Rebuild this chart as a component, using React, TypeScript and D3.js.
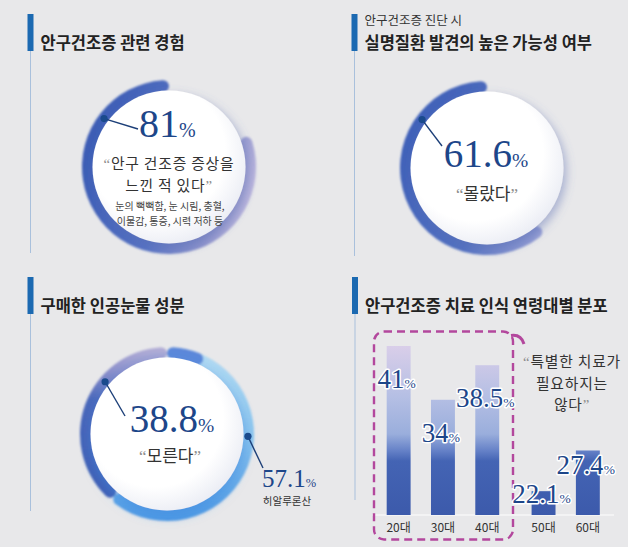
import React from 'react';
import * as d3 from 'd3';

// ---------------- DATA ----------------
const titles = ['안구건조증 관련 경험', '실명질환 발견의 높은 가능성 여부', '구매한 인공눈물 성분', '안구건조증 치료 인식 연령대별 분포'];
const subtitle2 = '안구건조증 진단 시';

const experienceValue = 81;
const experienceQuote = ['안구 건조증 증상을', '느낀 적 있다'];
const experienceSymptoms = ['눈의 뻑뻑함, 눈 시림, 충혈,', '이물감, 통증, 시력 저하 등'];

const unawareValue = 61.6;
const unawareQuote = '몰랐다';

const ingredientLabels = ['기타', '히알루론산', '모른다'];
const ingredientValues = [4.1, 57.1, 38.8];

const ageGroups = ['20대', '30대', '40대', '50대', '60대'];
const noTreatmentValues = [41, 34, 38.5, 22.1, 27.4];
const treatmentQuote = ['특별한 치료가', '필요하지는', '않다'];

// ---------------- STYLE ----------------
const W = 628, H = 547;
const BG = '#e8e8ea';
const NAVY = '#1d4689';
const KR = "'Noto Sans CJK KR', 'Noto Sans', sans-serif";
const SERIF = "'Liberation Serif', 'DejaVu Serif', serif";
const R_OUT = 87, R_IN = 75, R_WHITE = 76.5;

const pct = d3.scaleLinear().domain([0, 100]).range([0, 2 * Math.PI]);
const ringArc = d3.arc<any>().innerRadius(R_IN).outerRadius(R_OUT).cornerRadius((R_OUT - R_IN) / 2);
const polar = (cx: number, cy: number, r: number, a: number) => [cx + r * Math.sin(a), cy - r * Math.cos(a)];

function Header({ x, y, title, sub, lineEnd }: any) {
  return (
    <g>
      <line x1={x + 3} x2={x + 3} y1={y} y2={lineEnd} stroke="#a9c0dc" strokeWidth={1} />
      <rect x={x} y={y} width={6} height={37} fill="#1b69b1" />
      {sub && <text x={x + 13} y={y + 11} fontFamily={KR} fontSize={12.5} fill="#333">{sub}</text>}
      <text x={x + 13} y={y + 35} fontFamily={KR} fontWeight={700} fontSize={16.5} fill="#222">{title}</text>
    </g>
  );
}

function Quote({ x, y, lines, size, lineH, spacing = 0 }: any) {
  const q = (c: string) => <tspan fontFamily={SERIF} fill="#8d8d8d">{c}</tspan>;
  return (
    <g>
      {lines.map((l: string, i: number) => (
        <text key={i} x={x} y={y + i * lineH} fontFamily={KR} fontSize={size} fill="#333" textAnchor="middle" letterSpacing={spacing}>
          {i === 0 && q('\u201C')}
          {l}
          {i === lines.length - 1 && q('\u201D')}
        </text>
      ))}
    </g>
  );
}

function Leader({ cx, cy, angle, tx, ty }: any) {
  const [px, py] = polar(cx, cy, (R_IN + R_OUT) / 2, angle);
  return (
    <g>
      <line x1={px} y1={py} x2={tx} y2={ty} stroke="#1c3f78" strokeWidth={1.4} />
      <circle cx={px} cy={py} r={3.6} fill="#1a4a8c" />
    </g>
  );
}

function BigNum({ x, y, value, size, anchor = 'start', outline = false }: any) {
  return (
    <text x={x} y={y} fontFamily={SERIF} fontSize={size} fill={NAVY} textAnchor={anchor}
      stroke={outline ? '#fff' : 'none'} strokeWidth={outline ? 3 : 0} paintOrder="stroke" strokeLinejoin="round">
      {value}<tspan fontSize={size * 0.5}>%</tspan>
    </text>
  );
}

export default function App() {
  const c1 = { x: 169, y: 167 };
  const c2 = { x: 487, y: 168 };
  const c3 = { x: 167, y: 434 };

  const pie = d3.pie<number>().sort(null).value(d => d);
  const slices = pie(ingredientValues);

  // Bars
  const baseY = 515;
  const gap = 12;
  const x = d3.scaleBand().domain(ageGroups).range([376.5, 598]).paddingInner(0.46).paddingOuter(0.23);
  const bx = (g: string, i: number) => (x(g) as number) + (i >= 3 ? gap : 0);
  const y = d3.scaleLinear().domain([19, 41]).range([baseY, 346]);

  return (
    <svg width={W} height={H} style={{ position: 'absolute', left: 0, top: 0 }}>
      <defs>
        <filter id="shadow" x="-30%" y="-30%" width="160%" height="160%">
          <feDropShadow dx={3} dy={4} stdDeviation={5} floodColor="#5a6fb3" floodOpacity={0.45} />
        </filter>
        <filter id="shadow3" x="-30%" y="-30%" width="160%" height="160%">
          <feDropShadow dx={1} dy={5} stdDeviation={6} floodColor="#3f8be0" floodOpacity={0.55} />
        </filter>
        <filter id="soft" x="-10%" y="-10%" width="120%" height="120%"><feGaussianBlur stdDeviation={0.8} /></filter>
        <radialGradient id="white" cx="42%" cy="40%" r="62%">
          <stop offset="0.72" stopColor="#ffffff" />
          <stop offset="1" stopColor="#eceef5" />
        </radialGradient>
        <linearGradient id="g1" gradientUnits="userSpaceOnUse" x1={-R_OUT} y1={-R_OUT * 0.3} x2={R_OUT} y2={R_OUT * 0.3}>
          <stop offset="0" stopColor="#3a5bb4" />
          <stop offset="0.5" stopColor="#5571c2" />
          <stop offset="0.8" stopColor="#8d93cc" />
          <stop offset="1" stopColor="#c1badf" />
        </linearGradient>
        <linearGradient id="g2" gradientUnits="userSpaceOnUse" x1={-R_OUT} y1={-R_OUT * 0.4} x2={R_OUT} y2={R_OUT * 0.6}>
          <stop offset="0" stopColor="#3f60b8" />
          <stop offset="0.55" stopColor="#5270c0" />
          <stop offset="0.85" stopColor="#8e99d2" />
          <stop offset="1" stopColor="#c4c3e3" />
        </linearGradient>
        <linearGradient id="g3a" gradientUnits="userSpaceOnUse" x1={0} y1={R_OUT * 0.6} x2={0} y2={-R_OUT}>
          <stop offset="0" stopColor="#3f5fb5" />
          <stop offset="0.62" stopColor="#4a67ba" />
          <stop offset="0.82" stopColor="#8a8fcb" />
          <stop offset="1" stopColor="#b6b1d8" />
        </linearGradient>
        <linearGradient id="g3b" gradientUnits="userSpaceOnUse" x1={0} y1={-R_OUT} x2={0} y2={R_OUT}>
          <stop offset="0" stopColor="#b5dcf3" />
          <stop offset="0.5" stopColor="#8cc5ee" />
          <stop offset="1" stopColor="#4c98e4" />
        </linearGradient>
        <linearGradient id="bar" gradientUnits="userSpaceOnUse" x1={0} y1={y(41)} x2={0} y2={baseY}>
          <stop offset="0" stopColor="#d9cee9" />
          <stop offset="0.3" stopColor="#b5bfe4" />
          <stop offset="0.52" stopColor="#9aaedc" />
          <stop offset="0.62" stopColor="#6581c7" />
          <stop offset="0.68" stopColor="#4464b4" />
          <stop offset="1" stopColor="#3c5aab" />
        </linearGradient>
      </defs>

      <rect width={W} height={H} fill={BG} />

      {/* Panel 1 */}
      <Header x={27.5} y={14} title={titles[0]} lineEnd={253} />
      <g transform={`translate(${c1.x},${c1.y})`}>
        <path d={ringArc({ startAngle: pct(100 - experienceValue), endAngle: pct(100) }) as string} fill="url(#g1)" filter="url(#soft)" />
      </g>
      <circle cx={c1.x} cy={c1.y} r={R_WHITE} fill="url(#white)" filter="url(#shadow)" />
      <Leader cx={c1.x} cy={c1.y} angle={-0.93} tx={c1.x - 31} ty={c1.y - 38} />
      <BigNum x={c1.x - 30} y={c1.y - 30} value={experienceValue} size={40} />
      <Quote x={c1.x} y={c1.y + 2} lines={experienceQuote} size={14.8} lineH={21.5} spacing={0.8} />
      {experienceSymptoms.map((s, i) => (
        <text key={i} x={c1.x + 1} y={c1.y + 43 + i * 14.5} fontFamily={KR} fontSize={10} fill="#444" textAnchor="middle">{s}</text>
      ))}

      {/* Panel 2 */}
      <Header x={351.5} y={14} title={titles[1]} sub={subtitle2} lineEnd={256} />
      <g transform={`translate(${c2.x},${c2.y})`}>
        <path d={ringArc({ startAngle: pct(100 - unawareValue), endAngle: pct(100) }) as string} fill="url(#g2)" filter="url(#soft)" />
      </g>
      <circle cx={c2.x} cy={c2.y} r={R_WHITE} fill="url(#white)" filter="url(#shadow)" />
      <Leader cx={c2.x} cy={c2.y} angle={-0.93} tx={c2.x - 45} ty={c2.y - 22} />
      <BigNum x={c2.x - 1} y={c2.y - 1} value={unawareValue} size={39} anchor="middle" />
      <Quote x={c2.x} y={c2.y + 32} lines={[unawareQuote]} size={17} lineH={20} />

      {/* Panel 3 */}
      <Header x={27.5} y={277} title={titles[2]} lineEnd={511} />
      <g transform={`translate(${c3.x},${c3.y})`} filter="url(#soft)">
        <path d={ringArc(slices[1]) as string} fill="url(#g3b)" />
        <path d={ringArc(slices[2]) as string} fill="url(#g3a)" />
        <path d={ringArc({ startAngle: slices[0].startAngle, endAngle: slices[0].endAngle + 0.2 }) as string} fill="#5b88da" />
      </g>
      <circle cx={c3.x} cy={c3.y} r={R_WHITE} fill="url(#white)" filter="url(#shadow3)" />
      <Leader cx={c3.x} cy={c3.y} angle={-0.87} tx={c3.x - 42} ty={c3.y - 18} />
      <BigNum x={c3.x + 5} y={c3.y - 2} value={ingredientValues[2]} size={39} anchor="middle" />
      <Quote x={c3.x + 3} y={c3.y + 28} lines={[ingredientLabels[2]]} size={17} lineH={20} />
      <Leader cx={c3.x} cy={c3.y} angle={1.6} tx={c3.x + 96} ty={c3.y + 34} />
      <BigNum x={c3.x + 95} y={c3.y + 53} value={ingredientValues[1]} size={25} />
      <text x={c3.x + 120} y={c3.y + 71} fontFamily={KR} fontSize={10.5} fill="#333" textAnchor="middle">{ingredientLabels[1]}</text>

      {/* Panel 4 */}
      <Header x={352} y={277} title={titles[3]} lineEnd={500} />
      <line x1={372} x2={614} y1={baseY} y2={baseY} stroke="#f7f7f7" strokeWidth={1.5} />
      {noTreatmentValues.map((v, i) => (
        <rect key={ageGroups[i]} x={bx(ageGroups[i], i)} y={y(v)} width={x.bandwidth()} height={baseY - y(v)} fill="url(#bar)" />
      ))}
      {ageGroups.map((g, i) => (
        <text key={g} x={bx(g, i) + x.bandwidth() / 2} y={baseY + 17} fontFamily={KR} fontSize={12} fill="#333" textAnchor="middle">{g}</text>
      ))}
      <rect x={374} y={331.5} width={139} height={208} rx={10} fill="none" stroke="#b3479d" strokeWidth={2.4} strokeDasharray="8 5" />
      <path d="M 511 335.5 Q 521 334 524 344" fill="none" stroke="#b3479d" strokeWidth={3} />
      {noTreatmentValues.map((v, i) => (
        <BigNum key={i} x={bx(ageGroups[i], i) + x.bandwidth() / 2 - 2} y={Math.min(y(v) + (i < 3 ? 42 : 24), baseY - 12)}
          value={v} size={27} anchor="middle" outline />
      ))}
      <Quote x={572} y={367} lines={treatmentQuote} size={14.8} lineH={21.5} spacing={0.8} />
    </svg>
  );
}
